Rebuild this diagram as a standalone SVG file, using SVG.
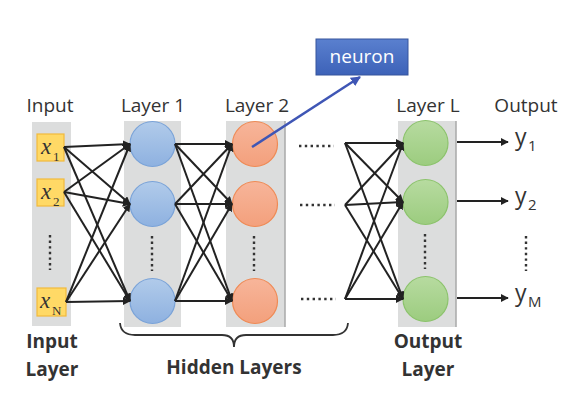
<svg xmlns="http://www.w3.org/2000/svg" width="588" height="419" viewBox="0 0 588 419">
<defs>
<marker id="ah" viewBox="0 0 10 10" refX="9" refY="5" markerWidth="4" markerHeight="4" orient="auto" markerUnits="strokeWidth">
<path d="M0,0 L10,5 L0,10 z" fill="#222"/>
</marker>
<marker id="ahb" viewBox="0 0 10 10" refX="9" refY="5" markerWidth="4" markerHeight="4" orient="auto" markerUnits="strokeWidth">
<path d="M0,0 L10,5 L0,10 z" fill="#3f56b5"/>
</marker>
<linearGradient id="gb" x1="0" y1="0" x2="0" y2="1"><stop offset="0" stop-color="#b1cbea"/><stop offset="1" stop-color="#8eb1e0"/></linearGradient>
<linearGradient id="go" x1="0" y1="0" x2="0" y2="1"><stop offset="0" stop-color="#f7b59a"/><stop offset="1" stop-color="#f3a07c"/></linearGradient>
<linearGradient id="gg" x1="0" y1="0" x2="0" y2="1"><stop offset="0" stop-color="#b7dba0"/><stop offset="1" stop-color="#9ccc7f"/></linearGradient>
<linearGradient id="gn" x1="0" y1="0" x2="0" y2="1"><stop offset="0" stop-color="#5a80cf"/><stop offset="1" stop-color="#3d62b8"/></linearGradient>
<style>
.col{fill:#dcdddd}
.edge{stroke:#a8a9a9;stroke-width:1.5}
.lbl{font-family:"Open Sans","Liberation Sans",sans-serif;font-size:19px;fill:#333}
.bl{font-family:"Open Sans","Liberation Sans",sans-serif;font-size:19px;font-weight:bold;fill:#333}
.xb{fill:#ffd966;stroke:#f2b93b;stroke-width:1.2}
.xt{font-family:"Liberation Serif",serif;font-style:italic;font-size:23px;fill:#333}
.xs{font-family:"Liberation Serif",serif;font-size:13px;fill:#333}
.nb{fill:url(#gb);stroke:#7aa3d8;stroke-width:1.2}
.no{fill:url(#go);stroke:#ef8a55;stroke-width:1.2}
.ng{fill:url(#gg);stroke:#8cc36c;stroke-width:1.2}
.c{stroke:#222;stroke-width:2;fill:none;marker-end:url(#ah)}
.dot{stroke:#333;stroke-width:2.4;stroke-dasharray:2.4 3.2;fill:none}
.yt{font-family:"Open Sans","Liberation Sans",sans-serif;font-size:23px;fill:#333}
.ys{font-family:"Open Sans","Liberation Sans",sans-serif;font-size:15px;fill:#333}
</style>
</defs>
<rect width="588" height="419" fill="#fff"/>

<g id="headers">
<text class="lbl" x="50" y="112" text-anchor="middle">Input</text>
<text class="lbl" x="153" y="112" text-anchor="middle">Layer 1</text>
<text class="lbl" x="257" y="112" text-anchor="middle">Layer 2</text>
<text class="lbl" x="428" y="112" text-anchor="middle">Layer L</text>
<text class="lbl" x="526" y="112" text-anchor="middle">Output</text>
</g>

<g id="input-layer">
<rect class="col" x="32" y="122" width="39" height="204"/>
<rect class="xb" x="37" y="134" width="27" height="27"/>
<text class="xt" x="41" y="154">x</text><text class="xs" x="53" y="161">1</text>
<rect class="xb" x="37" y="179" width="27" height="27"/>
<text class="xt" x="41" y="199">x</text><text class="xs" x="53" y="206">2</text>
<rect class="xb" x="37" y="288" width="29" height="28"/>
<text class="xt" x="40" y="308">x</text><text class="xs" x="52" y="315">N</text>
<line class="dot" x1="50" y1="235" x2="50" y2="270"/>
</g>

<g id="layer-1">
<rect class="col" x="124" y="121" width="57" height="206"/>
<circle class="nb" cx="152.5" cy="144" r="22.5"/>
<circle class="nb" cx="152.5" cy="204" r="22.5"/>
<circle class="nb" cx="152.5" cy="301" r="22.5"/>
<line class="dot" x1="152" y1="236" x2="152" y2="271"/>
</g>

<g id="layer-2">
<rect class="col" x="226" y="121" width="59" height="206"/>
<line class="edge" x1="285" y1="121" x2="285" y2="327"/>
<circle class="no" cx="255" cy="144" r="22.5"/>
<circle class="no" cx="255" cy="204" r="22.5"/>
<circle class="no" cx="255" cy="301" r="22.5"/>
<line class="dot" x1="254" y1="236" x2="254" y2="271"/>
</g>

<g id="layer-L">
<rect class="col" x="398" y="121" width="58" height="206"/>
<line class="edge" x1="456" y1="121" x2="456" y2="327"/>
<circle class="ng" cx="425.5" cy="143" r="22.5"/>
<circle class="ng" cx="425.5" cy="202" r="22.5"/>
<circle class="ng" cx="425.5" cy="299" r="22.5"/>
<line class="dot" x1="425" y1="234" x2="425" y2="269"/>
</g>

<g id="gap-dots">
<line class="dot" x1="299" y1="146" x2="334" y2="146" style="stroke-dasharray:2.4 3.4"/>
<line class="dot" x1="300" y1="205" x2="335" y2="205" style="stroke-dasharray:2.4 3.4"/>
<line class="dot" x1="301" y1="299" x2="336" y2="299" style="stroke-dasharray:2.4 3.4"/>
</g>

<g id="outputs">
<text class="yt" x="515" y="145">y</text><text class="ys" x="528" y="151">1</text>
<text class="yt" x="515" y="204">y</text><text class="ys" x="528" y="210">2</text>
<text class="yt" x="515" y="301">y</text><text class="ys" x="528" y="307">M</text>
<line class="dot" x1="526" y1="236" x2="526" y2="271"/>
</g>

<g id="connectors">
<line class="c" x1="64" y1="147" x2="130" y2="144"/>
<line class="c" x1="64" y1="147" x2="130" y2="204"/>
<line class="c" x1="64" y1="147" x2="130" y2="301"/>
<line class="c" x1="64" y1="192" x2="130" y2="144"/>
<line class="c" x1="64" y1="192" x2="130" y2="204"/>
<line class="c" x1="64" y1="192" x2="130" y2="301"/>
<line class="c" x1="66" y1="302" x2="130" y2="144"/>
<line class="c" x1="66" y1="302" x2="130" y2="204"/>
<line class="c" x1="66" y1="302" x2="130" y2="301"/>
<line class="c" x1="175" y1="144" x2="232" y2="144"/>
<line class="c" x1="175" y1="144" x2="232" y2="204"/>
<line class="c" x1="175" y1="144" x2="232" y2="301"/>
<line class="c" x1="175" y1="204" x2="232" y2="144"/>
<line class="c" x1="175" y1="204" x2="232" y2="204"/>
<line class="c" x1="175" y1="204" x2="232" y2="301"/>
<line class="c" x1="175" y1="301" x2="232" y2="144"/>
<line class="c" x1="175" y1="301" x2="232" y2="204"/>
<line class="c" x1="175" y1="301" x2="232" y2="301"/>
<line class="c" x1="345" y1="143" x2="403" y2="143"/>
<line class="c" x1="345" y1="143" x2="403" y2="202"/>
<line class="c" x1="345" y1="143" x2="403" y2="299"/>
<line class="c" x1="345" y1="205" x2="403" y2="143"/>
<line class="c" x1="345" y1="205" x2="403" y2="202"/>
<line class="c" x1="345" y1="205" x2="403" y2="299"/>
<line class="c" x1="345" y1="299" x2="403" y2="143"/>
<line class="c" x1="345" y1="299" x2="403" y2="202"/>
<line class="c" x1="345" y1="299" x2="403" y2="299"/>
<line class="c" x1="457" y1="142" x2="508" y2="142"/>
<line class="c" x1="457" y1="201" x2="508" y2="201"/>
<line class="c" x1="457" y1="298" x2="508" y2="298"/>
<line x1="252" y1="147" x2="360" y2="77" stroke="#3f56b5" stroke-width="2.5" marker-end="url(#ahb)"/>
</g>

<g id="neuron-label">
<rect x="316" y="39" width="92" height="36" fill="url(#gn)" stroke="#36549c" stroke-width="1"/>
<text x="362" y="63" text-anchor="middle" font-family="'Open Sans','Liberation Sans',sans-serif" font-size="19" fill="#fff">neuron</text>
</g>

<g id="brace">
<path d="M120,323 Q121,335 135,335 L222,335 Q234,335 234,347 Q234,335 246,335 L333,335 Q347,335 348,323" fill="none" stroke="#333" stroke-width="1.8"/>
</g>

<g id="footers">
<text class="bl" x="52" y="348" text-anchor="middle">Input</text>
<text class="bl" x="52" y="376" text-anchor="middle">Layer</text>
<text class="bl" x="234" y="374" text-anchor="middle">Hidden Layers</text>
<text class="bl" x="428" y="348" text-anchor="middle">Output</text>
<text class="bl" x="428" y="376" text-anchor="middle">Layer</text>
</g>
</svg>
